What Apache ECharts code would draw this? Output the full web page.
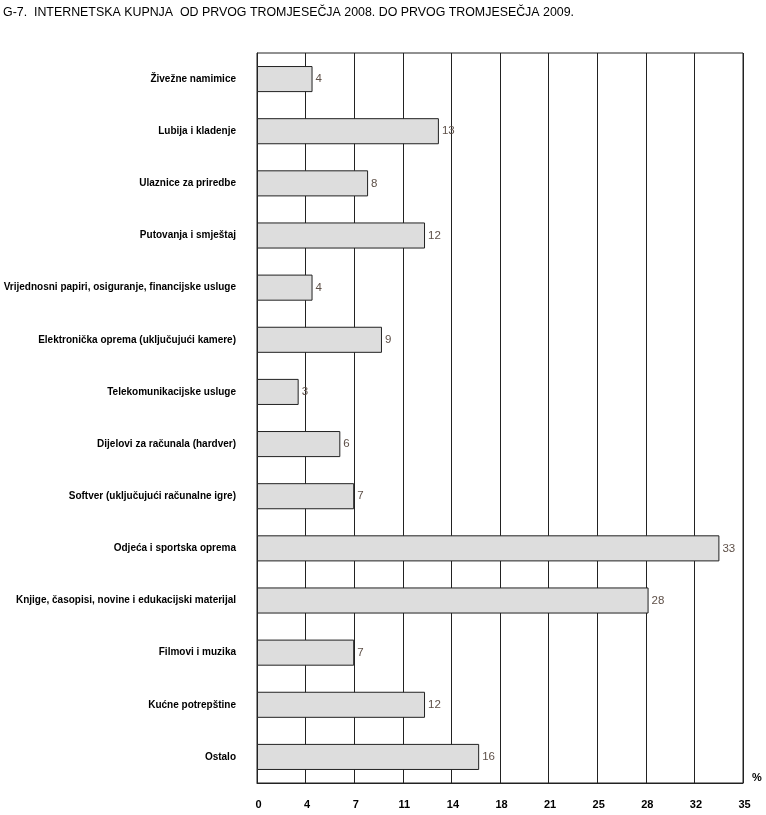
<!DOCTYPE html>
<html><head><meta charset="utf-8">
<script src="https://cdn.jsdelivr.net/npm/echarts@6/dist/echarts.min.js"></script>
<style>html,body{margin:0;padding:0;background:#fff}#c{width:766px;height:815px}</style>
</head><body><div id="c"></div>
<script>
var categories = ["Živežne namimice","Lubija i kladenje","Ulaznice za priredbe","Putovanja i smještaj","Vrijednosni papiri, osiguranje, financijske usluge","Elektronička oprema (uključujući kamere)","Telekomunikacijske usluge","Dijelovi za računala (hardver)","Softver (uključujući računalne igre)","Odjeća i sportska oprema","Knjige, časopisi, novine i edukacijski materijal","Filmovi i muzika","Kućne potrepštine","Ostalo"];
var values = [4.0, 13.1, 8.0, 12.1, 4.0, 9.0, 3.0, 6.0, 7.0, 33.3, 28.2, 7.0, 12.1, 16.0];
var tickLabels = ["0","4","7","11","14","18","21","25","28","32","35"];
var titleText = "G-7.  INTERNETSKA KUPNJA  OD PRVOG TROMJESEČJA 2008. DO PRVOG TROMJESEČJA 2009.";

var chart = echarts.init(document.getElementById('c'));
var font = "'Liberation Sans',Arial,sans-serif";
chart.setOption({
  animation: false,
  title: {text: titleText, left: 3, top: 7, padding: 0, textStyle: {fontFamily: font, fontSize: 12.4, fontWeight: 'normal', color: '#000'}},
  grid: {left: 257, right: 23, top: 53, bottom: 32, show: true, borderColor: '#222', borderWidth: 1, containLabel: false, outerBoundsMode: 'none'},
  xAxis: {
    type: 'value', min: 0, max: 35, interval: 3.5,
    axisLine: {show: true, lineStyle: {color: '#222'}},
    axisTick: {show: false},
    splitLine: {show: true, lineStyle: {color: '#222', width: 1}},
    axisLabel: {margin: 16, padding: [0, 0, 0, 3], fontFamily: font, fontWeight: 'bold', fontSize: 11, color: '#000',
      formatter: function (v) { return tickLabels[Math.round(v / 3.5)]; }},
    name: '%', nameLocation: 'end', nameGap: 9,
    nameTextStyle: {fontFamily: font, fontWeight: 'bold', fontSize: 11, color: '#000', verticalAlign: 'bottom'}
  },
  yAxis: {
    type: 'category', data: categories, inverse: true,
    axisLine: {show: true, lineStyle: {color: '#222'}},
    axisTick: {show: false},
    axisLabel: {margin: 21, fontFamily: font, fontWeight: 'bold', fontSize: 10, color: '#000'}
  },
  series: [{
    type: 'bar', data: values, barCategoryGap: '50%',
    itemStyle: {color: '#dddddd', borderColor: '#222', borderWidth: 1},
    label: {show: true, position: 'right', distance: 3, fontFamily: font, fontSize: 11.5, color: '#5e5048',
      formatter: function (p) { return Math.round(p.value); }}
  }]
});
</script></body></html>
